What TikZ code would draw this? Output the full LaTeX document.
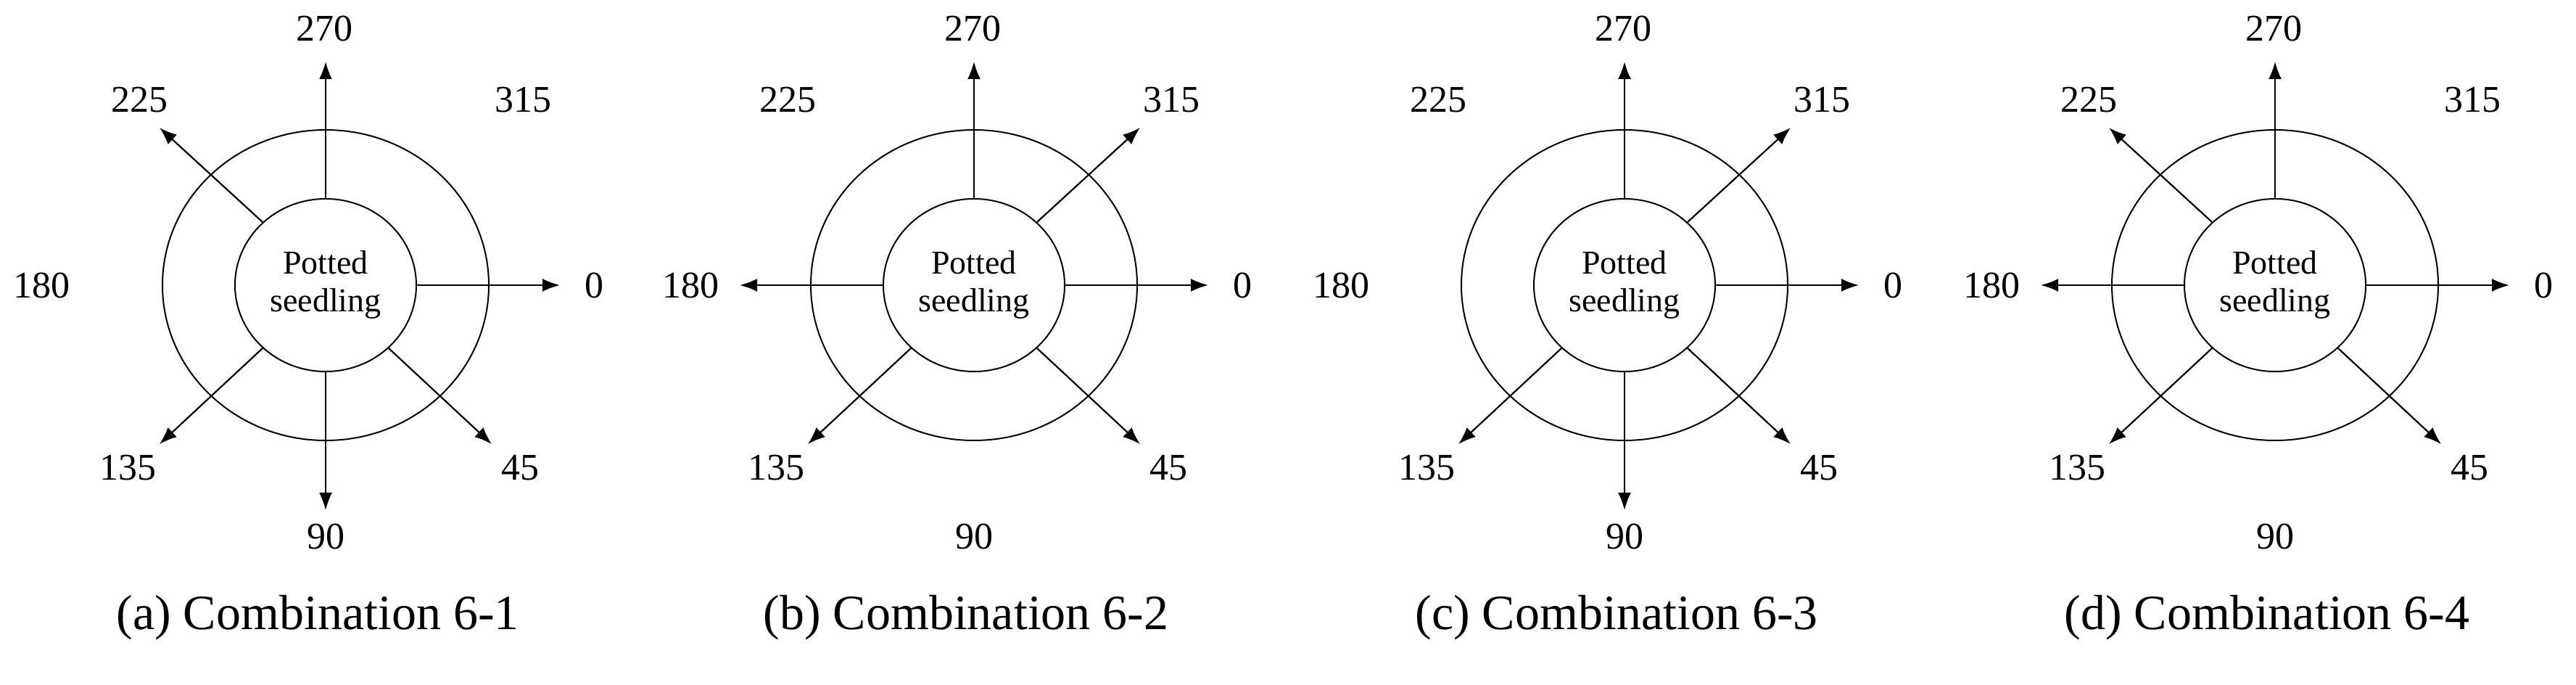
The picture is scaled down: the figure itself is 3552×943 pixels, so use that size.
\documentclass[tikz,border=0pt]{standalone}
\usepackage{fontspec}
\setmainfont{Liberation Serif}
\usetikzlibrary{shapes.geometric,arrows.meta}
\tikzset{
  ring/.style={draw,line width=2pt,ellipse,minimum width=450pt,minimum height=428pt,inner sep=0pt},
  core/.style={draw,line width=2pt,ellipse,minimum width=250pt,minimum height=238pt,inner sep=0pt,align=center,font=\fontsize{46}{52}\selectfont},
  lab/.style={font=\fontsize{52}{60}\selectfont},
  captxt/.style={font=\fontsize{68}{78}\selectfont},
  arr/.style={line width=2.2pt,-{Latex[length=24pt,width=18pt]}}
}
\newcommand{\mypanel}[4]{%
  \begin{scope}[shift={(#1,550)}]
    \node[ring] (#2r) at (0,0) {};
    \node[core] (#2c) at (0,0) {Potted\\seedling};
    \coordinate (#2t0) at (323,0);
    \coordinate (#2t45) at (229,-219);
    \coordinate (#2t90) at (0,-310);
    \coordinate (#2t135) at (-229,-219);
    \coordinate (#2t180) at (-323,0);
    \coordinate (#2t225) at (-229,217);
    \coordinate (#2t270) at (0,308);
    \coordinate (#2t315) at (229,217);
    \node[lab] (#2l270) at (-2,354) {270};
    \node[lab] (#2l225) at (-257,255) {225};
    \node[lab] (#2l315) at (272,255) {315};
    \node[lab] (#2l180) at (-391,0) {180};
    \node[lab] (#2l0) at (370,0) {0};
    \node[lab] (#2l135) at (-273,-252) {135};
    \node[lab] (#2l45) at (268,-252) {45};
    \node[lab] (#2l90) at (0,-346) {90};
    \node[captxt] (#2cap) at (-11,-458) {(#3) Combination 6-#4};
  \end{scope}}
\newcommand{\myarrows}[2]{%
  \foreach \a/\b in {#2} {\draw[arr] (#1c.\b) -- (#1t\a);}}
\begin{document}
\begin{tikzpicture}[x=1pt,y=1pt]
\useasboundingbox (0,0) rectangle (3552,943);
\mypanel{449}{A}{a}{1}
\myarrows{A}{270/90,225/135,0/0,45/-45,90/-90,135/-135}
\mypanel{1343}{B}{b}{2}
\myarrows{B}{270/90,315/45,0/0,45/-45,135/-135,180/180}
\mypanel{2240}{C}{c}{3}
\myarrows{C}{270/90,315/45,0/0,45/-45,90/-90,135/-135}
\mypanel{3137}{D}{d}{4}
\myarrows{D}{270/90,225/135,0/0,45/-45,135/-135,180/180}
\end{tikzpicture}
\end{document}
